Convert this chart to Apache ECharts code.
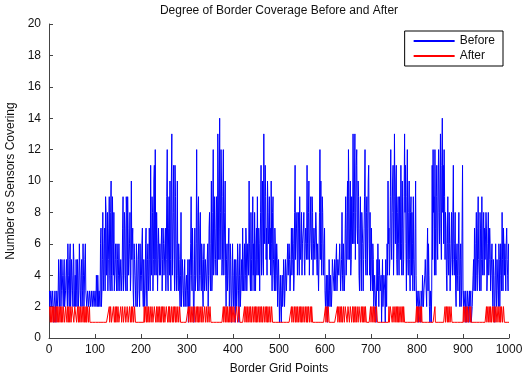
<!DOCTYPE html>
<html>
<head>
<meta charset="utf-8">
<script src="https://cdn.jsdelivr.net/npm/echarts@6/dist/echarts.min.js"></script>
<style>
  html, body { margin: 0; padding: 0; background: #fff; }
  #chart { width: 522px; height: 373px; }
</style>
</head>
<body>
<div id="chart"></div>
<script>
// sensors covering each border grid point
// *Odd  -> grid points 1, 3, 5 ... 999
// *Even -> grid points 2, 4, 6 ... 1000
const beforeOdd = [
  3,2,3,2,3,2,3,1,3,2,  5,2,5,3,4,2,5,2,4,3,  6,3,5,2,5,3,6,2,4,5,  2,4,3,6,2,5,3,4,2,6,
  3,2,3,2,3,2,3,2,3,2,  3,4,2,3,3,2,7,3,8,4,  7,9,4,8,5,9,3,10,3,6, 8,4,6,3,5,4,6,3,5,4,
  9,4,7,3,8,9,4,6,3,10, 5,3,6,4,2,5,3,6,2,4,  4,7,2,5,3,7,2,6,4,5,  11,4,8,5,11,12,4,6,5,7,
  6,4,7,5,6,4,7,5,12,3, 9,10,3,13,4,11,3,9,3,10, 3,5,2,8,3,4,2,5,3,4, 3,1,5,4,9,3,5,1,7,4,
  12,3,9,4,8,3,5,2,6,4, 5,3,6,4,8,3,10,4,12,5, 7,4,8,13,5,14,8,10,5,12, 4,10,2,6,4,7,3,5,1,6,
  2,5,1,4,3,5,1,6,3,5,  7,3,6,4,6,3,5,10,4,8, 3,9,6,8,3,7,9,4,6,3,  11,5,8,13,6,9,7,10,6,9,
  7,10,3,9,4,7,3,6,2,5, 1,4,1,4,3,4,3,5,4,6,  4,5,3,7,5,6,4,11,5,8, 5,7,9,5,8,6,7,5,6,6,
  11,5,10,6,9,5,8,6,7,5, 7,4,6,5,12,10,4,8,4,7, 2,4,1,3,5,2,4,3,5,4, 5,3,6,4,5,4,6,3,8,3,
  6,4,9,5,10,12,5,10,5,7, 13,6,13,8,12,6,9,3,9,3, 8,3,7,12,4,9,7,11,4,3, 7,3,5,3,4,1,5,6,2,4,
  3,1,5,2,4,1,3,6,10,7, 5,12,5,10,4,13,6,11,4,9, 4,8,11,4,7,5,13,11,3,12, 4,10,3,9,8,3,5,3,10,2,
  3,1,3,2,3,2,4,3,4,5,  2,7,6,2,3,1,11,12,9,12, 4,11,5,12,6,13,5,14,11,12, 5,7,3,9,4,6,3,8,4,11,
  4,8,2,6,3,8,2,6,3,11, 2,3,1,3,2,3,1,2,3,1,  3,5,7,3,8,3,9,4,8,3,  9,4,8,7,5,7,4,8,5,6,
  4,6,2,4,1,6,2,5,2,5,  4,6,8,3,7,6,3,7,4,6
]
const beforeEven = [
  2,3,2,3,1,2,3,2,3,3,  3,4,2,5,3,4,2,3,5,2,  4,2,6,3,4,2,5,3,2,3,  5,2,6,3,4,2,6,2,5,3,
  2,3,2,3,2,3,2,3,2,3,  2,3,4,2,3,6,2,5,3,6,  3,8,5,3,7,4,8,4,9,4,  3,5,4,6,3,6,3,5,3,7,
  3,8,4,9,3,7,5,8,4,5,  7,2,5,3,6,2,5,3,6,3,  6,3,5,2,6,3,5,3,7,3,  5,9,3,10,4,5,8,3,7,4,
  4,6,3,7,4,6,3,9,4,7,  4,5,10,4,8,5,11,4,6,4, 6,3,4,2,5,3,4,2,3,2,  5,3,2,6,4,7,2,4,3,6,
  4,8,3,7,4,6,3,5,3,5,  3,5,2,7,4,6,3,8,4,9,  5,9,4,10,7,5,12,4,9,4, 8,4,5,3,6,2,6,2,4,3,
  4,2,5,2,6,3,4,2,4,3,  4,5,3,7,3,6,4,6,3,5,  6,4,3,5,6,4,5,7,3,8,  4,10,4,7,11,5,4,8,7,5,
  4,6,8,5,3,6,4,5,4,3,  3,2,3,2,5,2,5,3,5,4,  6,3,5,4,7,3,8,5,7,4,  8,4,6,5,4,6,8,4,7,5,
  6,8,4,7,6,9,4,7,5,8,  5,6,3,8,5,6,9,5,6,3,  3,2,4,2,3,4,2,5,4,3,  3,5,3,5,4,6,3,5,4,6,
  3,7,4,8,5,9,7,4,9,6,  8,10,5,11,7,10,4,7,5,8, 6,5,9,5,8,4,10,6,8,5, 4,6,2,4,2,3,3,4,5,3,
  4,3,2,4,3,5,2,4,6,4,  9,6,8,11,7,9,10,5,8,6, 9,5,6,10,4,9,8,6,9,5, 8,5,8,4,6,9,4,7,4,3,
  2,3,2,1,3,4,2,3,5,3,  5,3,4,1,2,3,5,8,4,7,  9,6,10,8,10,7,11,8,6,9, 8,4,6,5,8,3,6,5,8,5,
  6,3,5,4,6,4,5,2,7,3,  3,2,3,1,3,2,3,2,1,2,  4,3,5,6,4,7,5,3,7,5,  5,7,4,5,8,3,6,4,7,3,
  5,3,5,2,4,3,5,3,6,2,  6,3,5,7,4,5,6,5,3,6
]

const afterOdd = [
  2,1,2,2,1,2,2,1,2,2,  1,2,2,1,2,2,2,1,2,1,  2,2,1,2,1,2,2,1,2,2,  1,2,2,1,2,1,2,2,1,2,
  2,1,2,1,1,1,1,1,1,1,  1,1,1,1,1,1,1,1,1,1,  1,1,1,1,1,2,1,2,1,1,  2,1,1,2,1,2,1,1,2,1,
  2,1,2,1,1,2,1,2,1,2,  1,2,1,2,1,1,1,1,1,1,  1,1,1,2,1,2,2,1,2,1,  2,1,2,1,2,2,1,1,2,1,
  2,1,1,2,1,2,1,2,2,1,  1,2,1,2,1,1,2,1,2,1,  2,1,2,1,1,1,1,1,1,1,  1,2,1,2,2,1,2,1,2,1,
  2,2,1,2,1,2,2,1,1,2,  1,2,1,2,1,2,1,1,1,1,  1,1,1,1,1,1,1,1,1,2,  1,2,2,1,2,1,1,2,1,2,
  1,2,1,1,2,1,2,1,1,1,  1,1,2,1,2,2,1,2,1,2,  1,2,1,2,2,1,2,1,2,2,  1,2,1,2,1,2,2,1,2,1,
  2,1,2,1,1,1,1,1,1,1,  1,1,1,1,1,1,1,1,1,1,  1,1,1,2,1,2,1,2,2,1,  2,1,2,2,1,2,1,2,1,2,
  2,1,2,1,2,2,1,1,1,1,  1,1,1,1,1,1,1,1,1,1,  2,1,2,2,1,1,1,1,1,1,  1,1,1,2,1,2,2,1,2,1,
  2,1,2,2,1,2,1,2,2,1,  2,2,1,2,1,2,1,2,1,2,  1,2,2,1,2,1,1,1,1,2,  1,2,2,1,2,1,2,1,1,1,
  1,1,1,1,1,1,1,1,1,2,  1,2,2,1,2,1,2,2,1,2,  2,1,2,1,2,2,1,1,1,1,  1,1,1,1,1,1,1,1,1,2,
  2,1,2,2,1,1,1,1,1,1,  1,1,1,1,1,1,1,1,1,2,  1,1,1,1,1,1,1,1,1,1,  2,1,2,2,1,2,1,2,1,1,
  1,1,1,1,1,1,1,1,1,1,  2,1,2,2,1,2,1,2,2,1,  1,1,1,1,1,1,1,1,1,1,  1,1,1,1,1,2,1,2,2,1,
  2,1,2,2,1,2,1,2,1,2,  2,1,2,1,2,1,1,1,1,1
]
const afterEven = [
  2,2,1,2,2,1,2,2,1,2,  2,1,2,2,1,2,1,2,2,2,  1,2,2,1,2,2,1,2,2,1,  2,1,2,2,1,2,1,2,2,1,
  1,2,1,2,1,1,1,1,1,1,  1,1,1,1,1,1,1,1,1,1,  1,1,1,1,1,1,2,1,1,2,  1,2,1,1,2,1,1,2,1,2,
  1,1,2,1,2,1,1,2,1,1,  2,1,2,1,1,1,1,1,1,1,  1,1,1,1,2,1,2,2,1,2,  1,2,1,1,2,1,2,1,2,2,
  1,2,1,2,2,1,1,2,1,2,  2,1,2,1,2,1,2,2,1,2,  1,2,1,1,1,1,1,1,1,1,  1,1,2,1,2,1,1,2,1,2,
  1,2,2,1,2,1,2,1,2,1,  2,1,2,1,2,1,1,1,1,1,  1,1,1,1,1,1,1,1,1,1,  2,1,2,2,1,2,1,1,2,1,
  2,1,1,2,1,1,2,1,1,1,  1,1,1,2,1,2,1,2,2,1,  2,1,2,1,2,2,1,2,1,2,  2,1,2,1,2,1,2,2,1,2,
  1,2,1,1,1,1,1,1,1,1,  1,1,1,1,1,1,1,1,1,1,  1,1,1,1,2,1,2,1,2,2,  1,2,1,2,2,1,2,1,2,1,
  1,2,1,2,1,2,1,1,1,1,  1,1,1,1,1,1,1,1,1,1,  1,2,1,2,1,1,1,1,1,1,  1,1,1,1,2,1,2,2,1,2,
  1,2,2,1,2,2,1,2,1,2,  1,2,2,1,2,1,2,2,1,2,  2,1,2,2,1,1,1,1,1,1,  2,1,2,2,1,2,1,1,1,1,
  1,1,1,1,1,1,1,1,1,1,  2,2,1,2,1,2,1,2,2,1,  2,1,2,2,1,2,1,1,1,1,  1,1,1,1,1,1,1,1,1,1,
  1,2,1,2,2,1,1,1,1,1,  1,1,1,1,1,1,1,1,1,1,  1,1,1,1,1,1,1,1,1,1,  1,2,1,2,2,1,2,1,1,1,
  1,1,1,1,1,1,1,1,1,1,  1,2,1,2,2,1,2,1,1,1,  1,1,1,1,1,1,1,1,1,1,  1,1,1,1,1,1,2,1,2,2,
  1,2,1,2,2,1,2,1,2,1,  1,2,1,2,1,1,1,1,1,1
]

// merge odd/even readings into [gridPoint, count] pairs
function toPairs (odd, even) {
  const out = []
  odd.forEach((v, i) => {
    out.push([2 * i + 1, v])
    out.push([2 * i + 2, even[i]])
  })
  return out
}

const chart = echarts.init(document.getElementById('chart'))
chart.setOption({
  animation: false,
  backgroundColor: '#fff',
  textStyle: { fontFamily: 'Liberation Sans, Arial, sans-serif' },
  title: {
    text: 'Degree of Border Coverage Before and After',
    left: 279,
    textAlign: 'center',
    top: 5,
    padding: 0,
    textStyle: { fontSize: 12, fontWeight: 'normal', color: '#111' }
  },
  legend: {
    orient: 'vertical',
    right: 19,
    top: 31,
    padding: [4, 8, 4, 8],
    itemWidth: 41,
    itemHeight: 14,
    itemGap: 3,
    borderColor: '#000',
    borderWidth: 1,
    backgroundColor: '#fff',
    itemStyle: { opacity: 0 },
    textStyle: { fontSize: 12, color: '#111' },
    data: ['Before', 'After']
  },
  grid: { left: 49, right: 13, top: 24, bottom: 35, containLabel: false, outerBoundsMode: 'none' },
  xAxis: {
    type: 'value',
    min: 0,
    max: 1000,
    interval: 100,
    name: 'Border Grid Points',
    nameLocation: 'middle',
    nameGap: 25,
    nameTextStyle: { fontSize: 12, color: '#111' },
    axisLine: { lineStyle: { color: '#444' } },
    axisTick: { inside: true, length: 4, lineStyle: { color: '#444' } },
    axisLabel: { fontSize: 12, color: '#111', margin: 6, formatter: v => String(v) },
    splitLine: { show: false }
  },
  yAxis: {
    type: 'value',
    min: 0,
    max: 20,
    interval: 2,
    name: 'Number os Sensors Covering',
    nameLocation: 'middle',
    nameGap: 29,
    nameTextStyle: { fontSize: 12, color: '#111' },
    axisLine: { show: true, lineStyle: { color: '#444' } },
    axisTick: { show: true, inside: true, length: 4, lineStyle: { color: '#444' } },
    axisLabel: { fontSize: 12, color: '#111', margin: 8 },
    splitLine: { show: false }
  },
  series: [
    {
      name: 'Before',
      type: 'line',
      symbol: 'none',
      data: toPairs(beforeOdd, beforeEven),
      lineStyle: { color: '#0000ff', width: 1 },
      itemStyle: { color: '#0000ff' },
      z: 2
    },
    {
      name: 'After',
      type: 'line',
      symbol: 'none',
      data: toPairs(afterOdd, afterEven),
      lineStyle: { color: '#ff0000', width: 1 },
      itemStyle: { color: '#ff0000' },
      z: 3
    }
  ]
})
</script>
</body>
</html>
